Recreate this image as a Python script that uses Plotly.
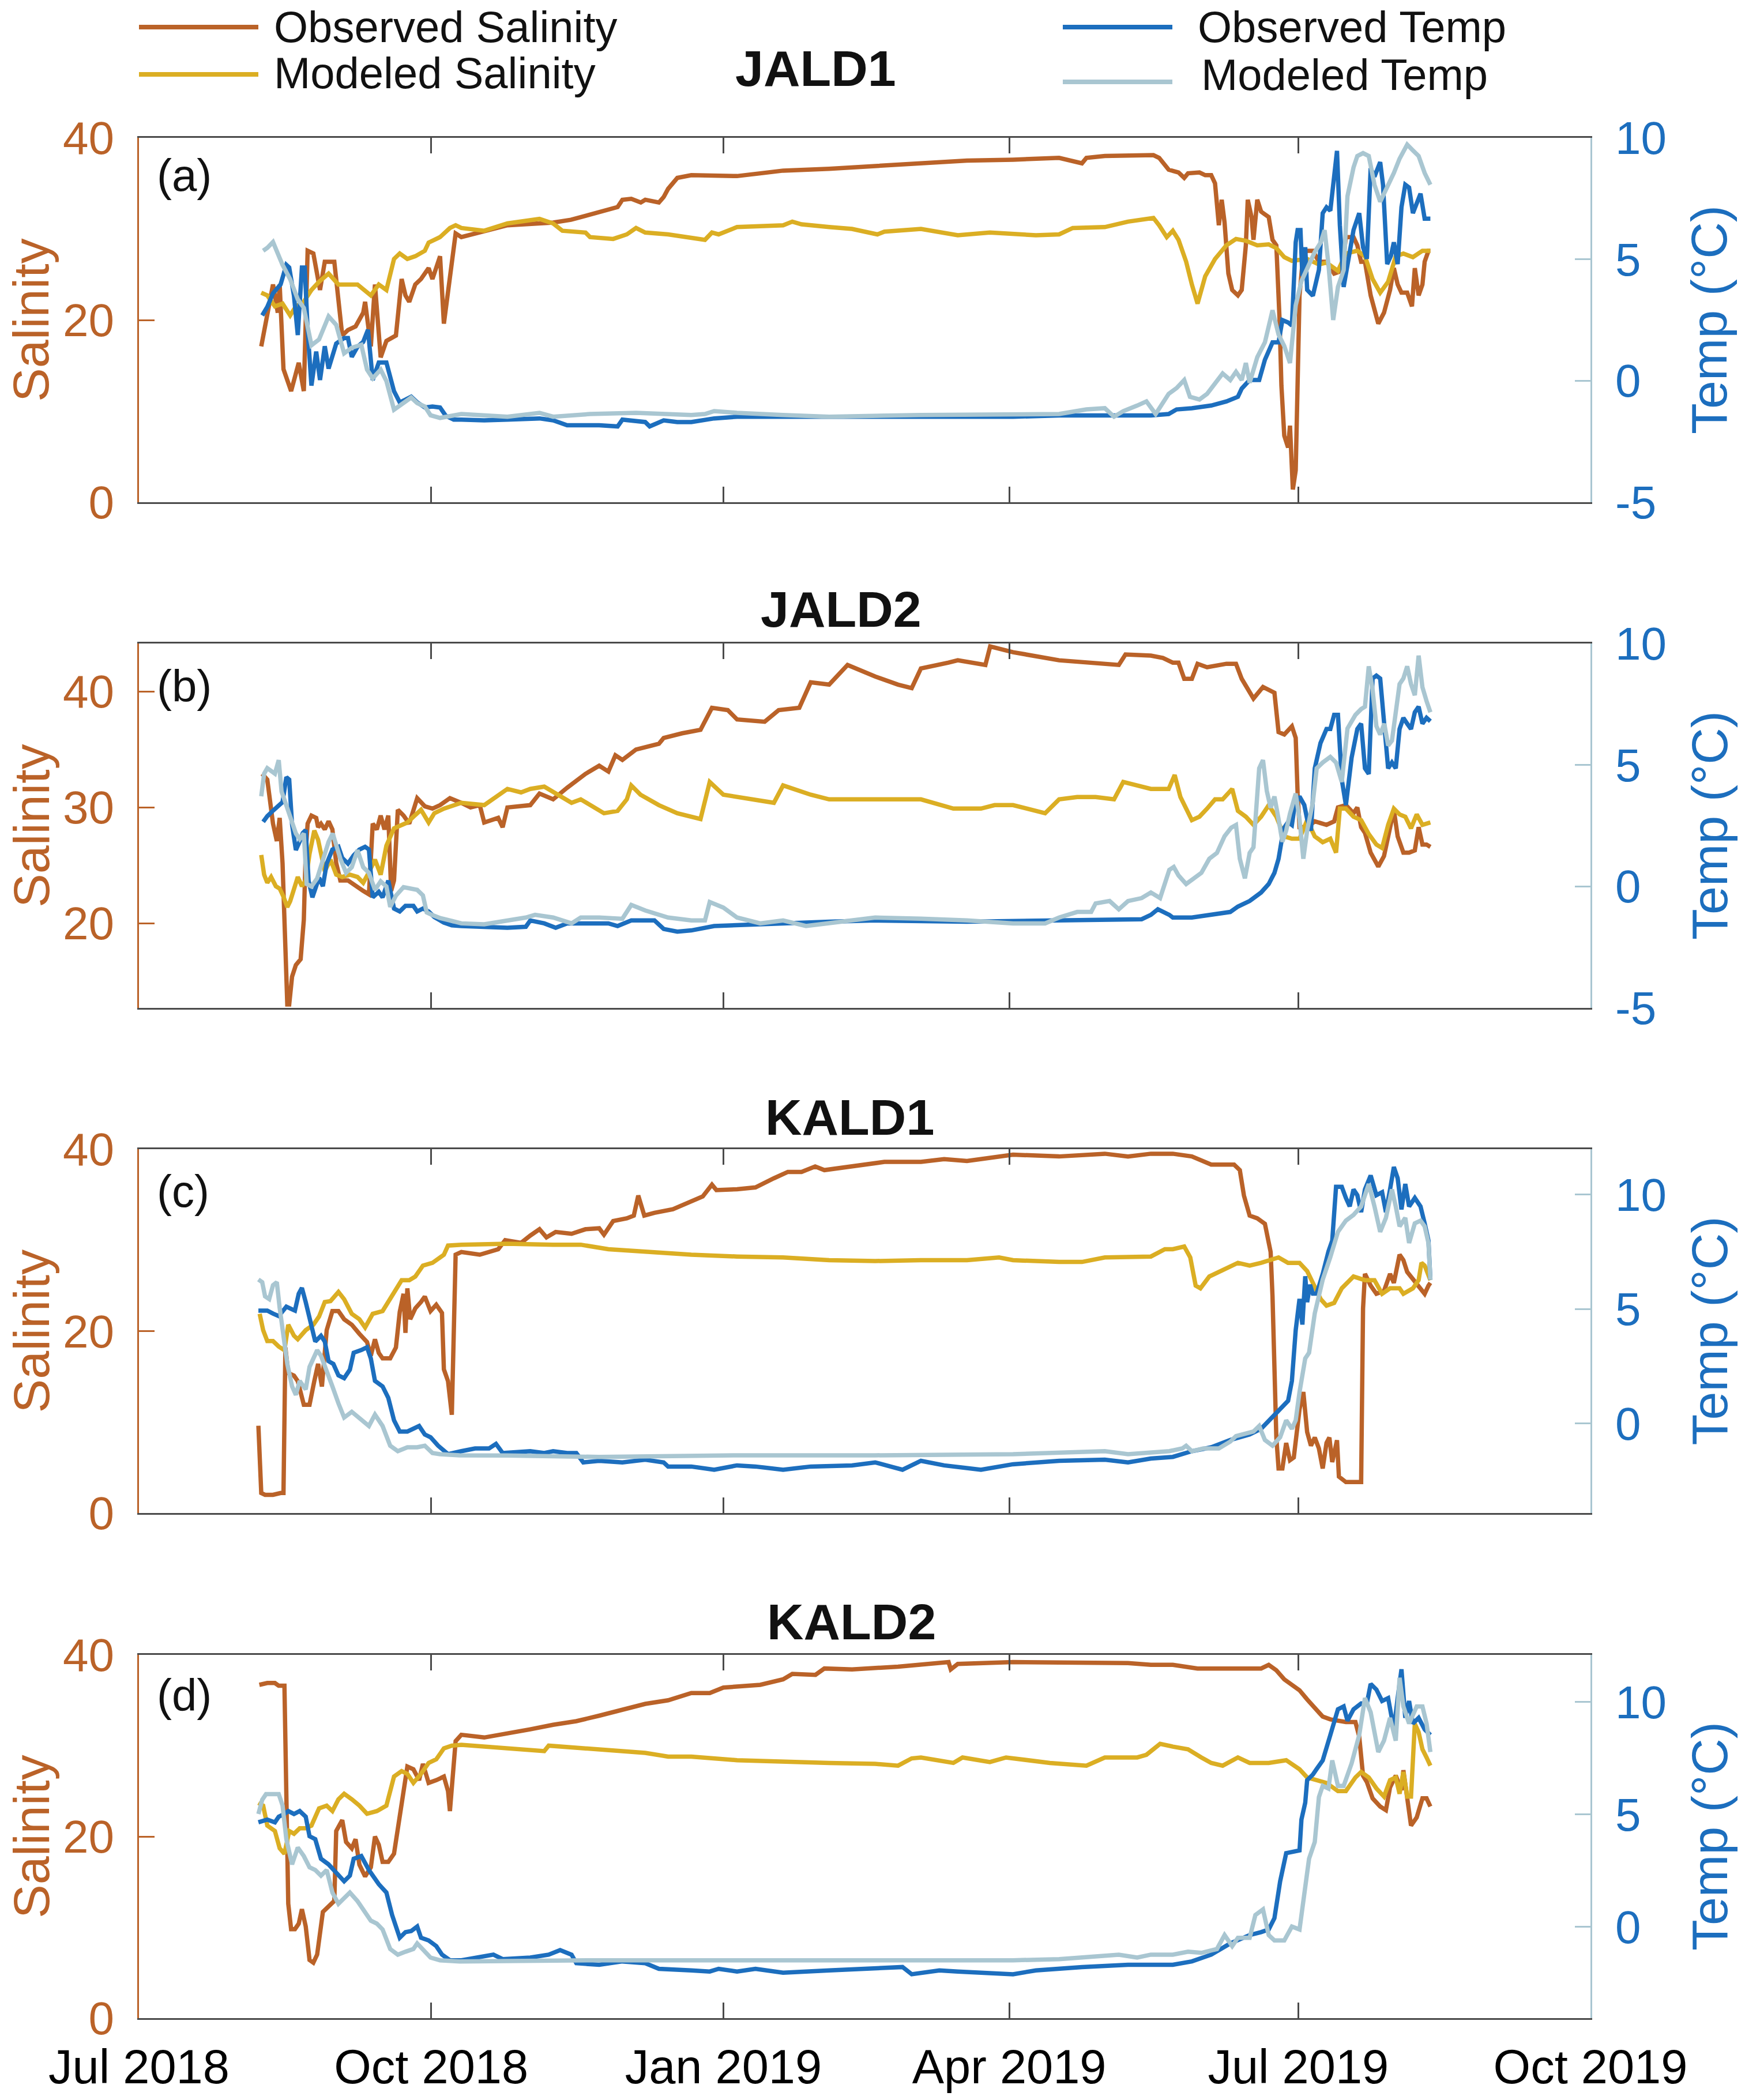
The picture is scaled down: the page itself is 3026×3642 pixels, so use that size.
import pandas as pd
import plotly.graph_objects as go

START = pd.Timestamp("2018-07-01")   # day 0 of the day offsets below

# ---------------- data: (days since 2018-07-01, value) ----------------
# Panel (a) JALD1
sal_obs_a = [(38.5,17.1),(42.2,23.9),(43.7,20.8),(44.3,23.9),(45.5,14.6),(47.9,12.2),(50.3,15.3),(51.9,12.2),(53.1,27.6),(54.9,27.3),(57.0,23.3),(58.5,26.4),(61.5,26.4),(64.0,18.3),(65.8,18.9),(68.2,19.3),(70.6,20.8),(71.2,22.0),(73.0,17.1),(74.3,23.9),(76.1,15.9),(77.9,17.7),(80.9,18.3),(82.7,24.5),(83.9,22.7),(85.1,22.0),(87.0,23.9),(88.8,24.5),(91.2,25.7),(92.4,24.5),(94.8,27.0),(96.0,19.6),(99.7,29.5),(101.5,29.1),(116.0,30.4),(130.4,30.7),(136.0,31.0),(144.9,31.9),(150.7,32.4),(152.2,33.2),(155.0,33.3),(158.0,32.9),(159.4,33.2),(163.7,32.9),(165.2,33.5),(166.6,34.4),(169.5,35.6),(173.9,35.9),(188.3,35.8),(195.6,36.1),(202.8,36.4),(217.3,36.6),(231.8,36.9),(246.2,37.2),(260.7,37.5),(275.2,37.6),(289.7,37.8),(296.9,37.2),(298.3,37.8),(304.1,38.0),(311.4,38.1),(319.4,38.1),(321.2,37.8),(324.2,36.5),(327.3,36.2),(329.1,35.6),(330.3,36.1),(333.9,36.2),(335.7,35.9),(337.6,35.9),(338.8,35.0),(340.0,30.4),(340.9,33.2),(341.8,30.7),(343.0,25.1),(344.2,23.3),(346.0,22.7),(347.2,23.3),(348.5,28.2),(349.1,33.2),(350.3,31.3),(350.9,28.8),(352.1,33.2),(353.3,31.9),(354.5,31.6),(355.7,31.3),(356.9,28.8),(358.1,28.2),(359.1,20.2),(359.7,12.8),(360.6,7.3),(361.8,6.0),(362.4,8.4),(363.3,1.4),(364.2,3.5),(365.4,22.7),(366.6,27.3),(367.8,27.6),(369.6,27.6),(371.5,26.4),(373.9,26.4),(376.3,25.1),(378.7,25.4),(380.0,29.1),(382.4,29.1),(383.6,28.2),(384.8,26.4),(386.0,26.4),(387.8,22.7),(390.2,19.6),(392.0,20.8),(393.9,23.3),(395.1,25.7),(396.3,23.9),(397.5,23.0),(399.3,23.0),(400.8,21.5),(401.7,25.7),(402.9,22.7),(404.1,23.9),(404.8,26.4),(406.0,27.6),(406.6,27.6)]
sal_mod_a = [(38.5,23.0),(40.4,22.7),(42.8,21.5),(45.2,21.8),(47.6,20.5),(49.4,21.5),(51.9,22.0),(54.3,23.3),(56.7,24.2),(59.7,25.1),(62.8,23.9),(65.8,23.9),(68.8,23.9),(73.0,22.7),(75.5,23.9),(77.9,23.3),(80.3,26.7),(82.1,27.3),(84.5,26.7),(87.0,27.0),(90.0,27.6),(91.2,28.5),(94.8,29.1),(97.9,30.1),(99.7,30.4),(101.5,30.1),(108.7,29.8),(116.0,30.6),(126.1,31.1),(130.4,30.6),(133.3,29.8),(140.6,29.6),(142.0,29.1),(149.3,28.9),(153.6,29.4),(156.5,30.1),(159.4,29.6),(166.6,29.4),(178.2,28.8),(180.4,29.6),(182.5,29.4),(188.3,30.2),(202.8,30.4),(205.7,30.8),(208.6,30.5),(217.3,30.2),(224.5,30.0),(232.5,29.4),(234.7,29.7),(246.2,30.0),(257.8,29.3),(267.9,29.6),(282.4,29.3),(289.7,29.4),(294.0,30.1),(304.1,30.2),(311.4,30.8),(319.4,31.2),(321.2,30.4),(323.6,29.1),(325.5,29.8),(327.3,28.8),(329.7,26.4),(331.5,23.9),(333.3,21.8),(335.7,24.8),(338.8,26.7),(342.4,28.2),(345.4,28.9),(348.5,28.7),(352.1,28.2),(355.7,28.3),(358.1,27.9),(360.6,26.9),(363.0,26.5),(367.8,26.7),(371.5,26.1),(373.9,26.3),(377.5,25.4),(380.0,27.3),(383.6,27.6),(386.0,27.0),(388.4,24.5),(390.8,23.0),(393.3,24.2),(395.7,27.0),(398.1,27.3),(401.1,26.9),(404.1,27.6),(406.6,27.6)]
tmp_obs_a = [(38.8,2.69),(40.4,3.04),(42.2,3.6),(44.6,3.97),(46.4,4.77),(47.3,4.66),(48.8,3.5),(50.0,1.88),(51.3,4.66),(52.2,4.66),(53.1,2.1),(54.3,-0.2),(55.8,1.2),(57.0,0.03),(58.5,1.42),(59.7,0.5),(62.1,1.53),(64.6,1.76),(65.8,1.76),(67.0,0.98),(68.8,1.4),(70.6,1.6),(72.1,2.1),(73.6,0.03),(75.5,0.75),(77.9,0.75),(80.3,-0.43),(82.1,-0.89),(83.9,-0.78),(85.7,-0.66),(87.6,-0.89),(90.0,-1.1),(92.4,-1.06),(94.8,-1.1),(96.6,-1.44),(99.1,-1.6),(101.5,-1.6),(108.7,-1.63),(116.0,-1.6),(126.1,-1.55),(130.4,-1.63),(134.8,-1.83),(144.9,-1.83),(150.7,-1.88),(152.2,-1.6),(159.4,-1.7),(160.8,-1.88),(165.2,-1.63),(169.5,-1.7),(173.9,-1.7),(181.1,-1.55),(188.3,-1.48),(217.3,-1.48),(246.2,-1.48),(275.2,-1.48),(289.7,-1.43),(318.6,-1.43),(324.2,-1.37),(326.7,-1.18),(331.5,-1.13),(337.6,-1.02),(342.4,-0.85),(346.0,-0.66),(347.2,-0.32),(349.7,0.03),(352.7,0.03),(354.5,0.86),(356.9,1.58),(358.8,1.58),(360.0,2.5),(361.8,2.4),(363.0,2.27),(364.2,5.7),(364.8,6.2),(365.7,6.2),(366.3,4.3),(367.2,5.5),(367.8,3.74),(369.6,3.5),(371.5,4.56),(372.7,6.9),(373.9,7.14),(375.1,7.0),(377.2,9.46),(378.1,6.4),(379.3,3.86),(380.5,4.8),(382.4,6.2),(384.2,6.9),(385.4,5.5),(386.6,5.02),(387.8,8.75),(389.0,8.4),(390.8,9.0),(391.7,8.05),(393.0,4.8),(394.2,5.15),(395.1,5.7),(396.3,4.8),(397.5,7.14),(398.7,8.07),(399.9,7.95),(401.1,6.9),(402.3,7.37),(403.5,7.7),(404.8,6.67),(406.6,6.67)]
tmp_mod_a = [(39.1,5.35),(40.4,5.47),(42.2,5.71),(43.4,5.35),(45.2,4.77),(47.6,4.18),(50.0,3.35),(51.9,3.0),(54.3,1.46),(56.7,1.7),(59.7,2.65),(62.1,2.3),(64.6,1.13),(67.0,1.36),(70.0,1.48),(71.8,0.46),(73.6,0.1),(76.1,0.46),(77.9,-0.01),(80.3,-1.19),(82.7,-0.97),(85.7,-0.69),(87.6,-0.92),(90.0,-1.06),(91.8,-1.42),(94.8,-1.53),(101.5,-1.37),(116.0,-1.48),(126.1,-1.32),(130.4,-1.48),(142.0,-1.37),(156.5,-1.32),(173.9,-1.41),(178.2,-1.37),(181.1,-1.25),(188.3,-1.32),(202.8,-1.41),(217.3,-1.48),(246.2,-1.41),(275.2,-1.41),(289.7,-1.37),(298.3,-1.18),(304.1,-1.13),(307.0,-1.48),(309.9,-1.25),(314.3,-1.02),(317.2,-0.85),(320.1,-1.37),(321.8,-1.02),(324.2,-0.54),(326.7,-0.3),(329.1,0.03),(330.9,-0.66),(333.9,-0.77),(336.3,-0.54),(339.4,0.03),(341.2,0.3),(343.6,0.03),(345.4,0.37),(347.2,0.03),(348.5,0.73),(349.7,-0.08),(352.1,0.97),(354.5,1.58),(356.9,2.9),(358.8,1.9),(360.6,1.43),(362.4,0.73),(364.2,3.1),(366.0,4.1),(367.8,4.6),(370.2,5.3),(372.1,5.7),(373.3,6.2),(374.5,4.8),(376.0,2.5),(377.5,3.86),(379.3,4.56),(380.5,7.6),(382.4,8.78),(383.6,9.25),(385.4,9.37),(387.2,9.25),(389.0,8.07),(390.8,7.37),(392.6,7.83),(395.1,8.55),(396.9,9.14),(399.3,9.72),(401.1,9.48),(402.9,9.25),(404.8,8.55),(406.6,8.07)]

# Panel (b) JALD2
sal_obs_b = [(38.8,32.9),(40.4,32.4),(42.2,28.6),(43.4,27.1),(44.3,29.1),(45.2,25.2),(46.1,17.9),(46.7,13.0),(47.3,13.0),(48.2,15.4),(49.4,16.4),(50.9,16.9),(51.9,20.3),(52.5,26.2),(53.1,28.6),(54.3,29.3),(55.8,29.1),(56.4,28.3),(57.3,28.6),(58.5,28.1),(59.7,28.8),(60.9,28.1),(62.1,25.2),(63.4,23.7),(65.8,23.7),(68.2,23.2),(70.6,22.8),(72.4,22.5),(73.6,28.6),(74.9,28.1),(76.1,29.3),(77.3,28.1),(78.5,29.3),(79.4,22.8),(80.3,23.7),(81.5,29.8),(83.3,29.3),(85.1,28.6),(87.6,30.8),(90.0,30.1),(92.4,29.9),(94.8,30.2),(97.9,30.8),(101.5,30.4),(104.4,30.0),(107.3,30.2),(108.7,28.7),(113.1,29.1),(114.5,28.3),(116.0,30.0),(123.2,30.2),(126.1,31.2),(130.4,30.7),(134.8,31.7),(140.6,32.9),(144.9,33.6),(147.8,33.1),(150.0,34.5),(152.2,34.1),(156.5,35.0),(163.7,35.5),(165.2,36.0),(171.0,36.4),(176.8,36.7),(180.4,38.6),(185.4,38.4),(188.3,37.6),(197.0,37.4),(201.4,38.4),(207.9,38.6),(211.5,40.8),(217.3,40.6),(223.1,42.3),(231.8,41.3),(239.0,40.6),(243.3,40.3),(246.2,42.0),(254.9,42.5),(257.8,42.7),(266.5,42.3),(268.0,43.9),(275.2,43.4),(289.7,42.7),(308.5,42.3),(310.6,43.2),(318.6,43.1),(322.4,42.9),(325.5,42.5),(327.3,42.5),(329.1,41.1),(331.5,41.1),(333.3,42.4),(336.3,42.1),(342.4,42.4),(345.4,42.4),(347.2,41.1),(349.7,39.9),(350.9,39.4),(353.9,40.4),(357.5,39.9),(358.8,36.5),(360.6,36.3),(363.0,37.0),(364.2,36.0),(364.8,31.2),(365.4,28.3),(367.8,28.3),(370.2,28.8),(373.9,28.5),(376.3,28.8),(377.5,30.0),(380.0,30.2),(382.4,29.5),(383.6,30.0),(384.8,28.3),(386.0,27.8),(387.8,26.1),(390.2,24.9),(392.0,25.8),(393.9,28.3),(395.1,29.8),(396.3,27.5),(398.1,26.1),(399.9,26.1),(401.7,26.3),(402.9,28.3),(404.1,26.8),(405.4,26.8),(406.6,26.6)]
sal_mod_b = [(38.5,25.9),(39.4,24.2),(40.4,23.5),(41.6,24.0),(43.1,23.2),(44.3,23.0),(45.5,22.3),(46.7,21.4),(47.6,21.9),(48.8,23.0),(50.0,24.0),(51.3,23.2),(52.5,23.7),(53.7,26.0),(55.2,28.0),(56.4,27.2),(57.3,26.0),(58.5,24.5),(60.3,25.5),(62.1,24.2),(64.0,24.0),(66.4,24.2),(68.8,24.0),(70.6,23.5),(72.4,24.4),(74.3,25.5),(76.1,24.2),(77.9,26.7),(80.3,28.2),(82.7,28.5),(84.5,28.7),(86.4,29.2),(88.8,29.8),(91.2,28.7),(93.0,29.5),(96.0,29.9),(98.5,30.1),(101.5,30.4),(108.7,30.2),(113.1,31.1),(116.0,31.6),(120.3,31.3),(123.2,31.6),(127.6,31.8),(131.9,31.1),(136.2,30.4),(139.1,30.7),(142.0,30.2),(146.4,29.5),(150.7,29.7),(153.6,30.7),(155.0,31.9),(157.9,31.1),(163.7,30.2),(169.5,29.5),(176.8,29.0),(179.7,32.2),(184.0,31.1),(188.3,30.9),(199.9,30.4),(202.8,31.9),(211.5,31.1),(217.3,30.7),(246.2,30.7),(256.4,29.9),(265.1,29.9),(269.4,30.2),(275.2,30.2),(285.3,29.5),(289.7,30.7),(295.4,30.9),(301.2,30.9),(307.0,30.7),(309.9,32.2),(312.8,32.0),(318.6,31.6),(321.8,31.6),(324.2,31.6),(326.1,32.8),(327.9,30.9),(331.5,28.9),(333.9,29.2),(336.3,29.9),(338.8,30.7),(341.2,30.7),(344.2,31.6),(346.0,29.7),(348.5,29.2),(350.9,28.5),(353.3,29.2),(355.7,30.2),(358.1,29.2),(360.6,27.5),(363.0,27.3),(365.4,27.3),(367.8,28.9),(370.2,27.5),(372.7,27.0),(375.1,27.3),(376.9,26.1),(378.1,29.9),(380.0,29.9),(382.4,29.2),(384.8,28.9),(387.2,27.7),(389.6,26.8),(391.4,26.5),(393.3,28.5),(395.1,29.9),(396.9,29.4),(398.7,29.2),(400.5,28.2),(402.3,29.4),(404.1,28.5),(406.6,28.7)]
tmp_obs_b = [(39.1,2.66),(40.4,2.89),(42.2,3.12),(44.0,3.35),(45.2,3.47),(46.4,4.5),(47.3,4.4),(48.2,2.55),(49.4,1.5),(50.6,1.85),(51.6,2.2),(52.5,2.32),(53.4,0.24),(54.6,-0.45),(55.5,-0.1),(56.7,0.36),(57.9,0.01),(59.1,0.94),(60.9,1.52),(62.8,1.63),(64.0,1.17),(65.8,0.94),(67.6,1.28),(69.4,1.52),(71.2,1.63),(72.4,1.52),(73.6,-0.45),(75.5,-0.22),(76.7,-0.45),(78.5,0.24),(80.3,-0.91),(82.1,-1.03),(83.9,-0.8),(86.4,-0.8),(87.6,-1.03),(89.4,-0.91),(91.2,-1.03),(93.0,-1.26),(96.0,-1.49),(98.5,-1.6),(101.5,-1.63),(110.2,-1.68),(116.0,-1.7),(121.8,-1.66),(123.2,-1.4),(127.6,-1.52),(131.2,-1.7),(134.8,-1.52),(147.8,-1.52),(150.7,-1.63),(155.0,-1.4),(162.3,-1.4),(165.2,-1.75),(169.5,-1.86),(173.9,-1.81),(181.1,-1.63),(188.3,-1.58),(202.8,-1.52),(217.3,-1.45),(231.8,-1.4),(260.7,-1.45),(289.7,-1.4),(315.7,-1.35),(318.6,-1.17),(320.8,-0.94),(324.4,-1.17),(325.5,-1.28),(331.5,-1.28),(337.6,-1.17),(343.6,-1.05),(346.0,-0.83),(349.7,-0.6),(353.3,-0.25),(355.7,0.1),(357.5,0.56),(358.8,1.14),(360.0,2.07),(360.6,2.42),(361.8,2.65),(363.0,2.53),(363.9,3.35),(365.4,3.7),(366.9,3.35),(367.8,2.77),(369.0,2.3),(370.2,4.86),(372.0,5.9),(373.9,6.48),(375.1,6.48),(376.3,7.06),(377.5,7.06),(378.7,4.4),(380.0,3.35),(381.8,5.3),(383.6,6.48),(384.8,6.7),(386.0,4.86),(387.2,4.63),(388.4,8.56),(389.6,8.68),(390.8,8.56),(392.1,6.48),(393.3,4.86),(394.5,5.1),(395.7,4.86),(396.9,6.48),(398.1,6.94),(399.3,6.7),(400.5,6.48),(401.7,7.17),(402.9,7.4),(404.1,6.7),(405.4,6.94),(406.6,6.8)]
tmp_mod_b = [(38.5,3.71),(39.4,4.64),(40.4,4.87),(41.6,4.75),(42.8,4.64),(44.0,5.2),(44.9,3.9),(45.8,3.57),(47.6,2.88),(49.4,2.18),(50.6,1.95),(51.9,2.18),(52.8,0.1),(54.3,0.0),(56.1,0.33),(57.9,1.14),(59.7,1.84),(61.0,2.18),(62.1,1.72),(63.4,1.14),(65.2,0.56),(67.0,0.79),(68.8,1.49),(70.6,0.79),(72.4,0.56),(74.3,-0.14),(76.1,0.21),(77.9,0.0),(79.1,-0.84),(80.9,-0.38),(83.3,-0.03),(85.7,-0.07),(87.6,-0.14),(89.4,-0.37),(90.6,-1.07),(92.4,-1.18),(94.8,-1.3),(98.5,-1.42),(101.5,-1.52),(108.7,-1.56),(116.0,-1.4),(121.8,-1.28),(124.7,-1.17),(130.4,-1.28),(136.2,-1.52),(139.1,-1.28),(144.9,-1.28),(152.2,-1.33),(155.0,-0.76),(159.4,-0.99),(166.6,-1.28),(173.9,-1.4),(178.2,-1.4),(179.7,-0.64),(184.0,-0.87),(188.3,-1.28),(195.6,-1.52),(202.8,-1.4),(210.0,-1.63),(224.5,-1.4),(231.8,-1.28),(246.2,-1.33),(260.7,-1.4),(275.2,-1.52),(285.3,-1.52),(289.7,-1.28),(295.4,-1.05),(299.8,-1.05),(301.2,-0.7),(305.6,-0.6),(308.5,-0.94),(311.4,-0.6),(315.7,-0.48),(318.6,-0.25),(321.5,-0.48),(324.4,0.68),(325.8,0.8),(327.3,0.45),(329.7,0.1),(332.1,0.33),(334.5,0.56),(337.0,1.14),(339.4,1.38),(341.8,2.07),(343.9,2.42),(345.4,2.53),(346.6,1.14),(348.2,0.33),(349.7,1.38),(350.9,1.61),(352.7,4.86),(353.9,5.2),(355.1,3.93),(356.3,3.24),(357.5,3.7),(358.8,2.77),(360.0,1.84),(361.2,2.3),(362.4,3.0),(364.2,3.82),(365.4,2.77),(366.6,1.14),(367.8,2.3),(369.6,3.47),(370.8,4.86),(372.7,5.1),(375.1,5.33),(376.9,5.1),(378.7,4.3),(380.5,6.5),(383.0,7.06),(384.8,7.3),(386.0,7.4),(387.2,9.06),(388.4,8.1),(389.6,6.6),(390.8,6.25),(392.1,6.7),(393.3,5.8),(394.5,6.0),(395.7,7.17),(396.9,8.33),(398.1,8.56),(399.3,9.06),(400.5,8.33),(401.7,7.87),(402.9,9.5),(404.1,8.2),(405.4,7.63),(406.6,7.17)]

# Panel (c) KALD1
sal_obs_c = [(37.6,9.6),(38.5,2.2),(39.7,2.0),(42.2,2.0),(44.6,2.2),(45.5,2.2),(46.1,18.2),(47.0,15.4),(48.8,15.1),(50.0,14.5),(51.9,11.9),(53.7,11.9),(55.2,14.5),(56.4,16.4),(57.6,13.9),(58.2,17.0),(59.1,20.1),(60.9,22.2),(62.8,22.2),(64.6,21.3),(67.0,20.7),(69.4,19.7),(71.8,18.8),(73.0,17.3),(74.3,19.1),(75.5,17.6),(76.7,17.0),(79.1,17.0),(80.9,18.2),(82.1,22.1),(83.3,24.1),(83.9,19.8),(84.5,24.7),(85.4,21.3),(87.0,22.5),(88.8,23.2),(90.0,23.8),(91.8,22.2),(93.6,22.9),(95.4,22.0),(96.0,15.8),(97.3,14.5),(98.5,10.8),(99.7,28.4),(101.5,28.7),(107.3,28.4),(113.1,29.0),(115.3,30.0),(120.3,29.7),(123.2,30.5),(126.1,31.2),(128.3,30.3),(131.2,30.9),(136.2,30.7),(140.6,31.2),(144.9,31.3),(146.4,30.6),(149.3,32.1),(153.6,32.4),(155.8,32.7),(157.2,34.9),(159.1,32.7),(162.3,33.0),(168.1,33.4),(173.9,34.3),(177.5,34.8),(180.4,36.1),(181.8,35.5),(188.3,35.6),(194.1,35.8),(199.9,36.8),(204.3,37.5),(208.6,37.5),(212.9,38.1),(215.8,37.7),(221.6,38.0),(228.9,38.3),(234.7,38.6),(246.2,38.6),(253.5,38.9),(260.7,38.7),(275.2,39.4),(289.7,39.2),(304.1,39.5),(311.4,39.2),(318.6,39.5),(325.5,39.5),(331.5,39.2),(337.6,38.3),(344.8,38.3),(346.6,37.7),(347.9,34.9),(349.7,32.7),(352.1,32.4),(354.5,31.8),(356.3,28.7),(356.9,23.8),(357.5,15.8),(358.1,8.3),(358.8,4.9),(360.0,4.9),(361.2,7.7),(362.4,5.8),(363.6,6.1),(365.4,11.4),(366.6,13.3),(367.8,8.9),(369.0,7.4),(370.2,8.3),(371.5,7.1),(372.7,4.9),(373.9,7.7),(374.8,8.3),(375.7,5.6),(377.2,8.0),(377.8,4.0),(380.0,3.4),(384.8,3.4),(385.4,22.5),(386.0,26.3),(387.8,25.0),(389.6,24.1),(392.0,24.4),(393.9,26.3),(395.1,25.3),(396.9,28.4),(398.1,27.8),(399.3,26.5),(402.9,25.0),(404.8,24.1),(406.0,25.0),(406.6,25.3)]
sal_mod_c = [(38.0,21.9),(39.1,20.1),(40.4,18.9),(42.2,18.9),(44.0,18.3),(45.8,17.9),(47.0,20.7),(48.8,19.5),(50.0,19.1),(52.5,20.1),(54.9,20.7),(56.7,21.6),(58.5,23.2),(60.3,23.3),(62.8,24.3),(64.6,23.5),(67.0,21.9),(69.4,21.3),(71.2,20.4),(73.6,21.9),(76.7,22.2),(79.1,23.5),(82.7,25.6),(85.1,25.6),(87.0,26.0),(89.4,27.2),(92.4,27.5),(96.0,28.4),(97.3,29.4),(101.5,29.5),(116.0,29.6),(130.4,29.5),(139.1,29.5),(147.8,29.0),(159.4,28.7),(173.9,28.4),(188.3,28.2),(202.8,28.1),(217.3,27.8),(231.8,27.7),(246.2,27.8),(260.7,27.8),(270.8,28.1),(275.2,27.8),(289.7,27.6),(296.9,27.6),(304.1,28.1),(318.6,28.2),(323.0,29.0),(325.5,29.0),(329.1,29.3),(331.0,28.1),(332.7,25.0),(334.2,24.7),(337.0,26.0),(340.6,26.6),(346.0,27.5),(349.7,27.2),(353.3,27.5),(358.8,28.1),(361.8,27.5),(365.4,27.5),(367.8,26.6),(369.6,25.3),(372.1,23.5),(373.9,22.8),(376.3,23.1),(378.7,24.7),(382.4,26.0),(386.0,25.6),(389.0,25.6),(391.4,24.1),(393.9,24.7),(396.9,24.7),(398.1,24.1),(401.1,24.7),(402.9,25.6),(403.8,27.5),(404.8,27.2),(406.6,25.6)]
tmp_obs_c = [(37.6,4.93),(40.4,4.93),(42.2,4.8),(44.0,4.69),(46.4,5.1),(49.1,4.93),(50.3,5.67),(51.3,5.92),(52.5,5.3),(54.3,4.32),(55.5,3.58),(57.3,3.83),(58.5,3.58),(59.7,2.72),(61.2,2.6),(62.8,2.1),(64.6,1.98),(66.4,2.35),(67.6,3.09),(70.0,3.21),(71.8,3.33),(73.0,2.84),(74.3,1.86),(76.7,1.62),(78.5,1.12),(80.3,0.14),(82.1,-0.35),(84.5,-0.35),(86.4,-0.23),(88.2,-0.11),(90.0,-0.48),(91.8,-0.6),(94.2,-0.97),(97.3,-1.34),(101.5,-1.21),(105.8,-1.09),(110.2,-1.09),(112.4,-0.89),(114.5,-1.29),(118.9,-1.24),(123.2,-1.21),(127.6,-1.29),(130.4,-1.21),(134.8,-1.29),(137.7,-1.29),(139.9,-1.70),(144.9,-1.63),(152.2,-1.70),(159.4,-1.58),(165.2,-1.70),(166.6,-1.88),(173.9,-1.88),(181.1,-2.02),(188.3,-1.83),(194.1,-1.88),(202.8,-2.02),(211.5,-1.88),(224.5,-1.83),(231.8,-1.70),(240.4,-2.02),(246.2,-1.63),(253.5,-1.83),(265.1,-2.02),(275.2,-1.78),(289.7,-1.63),(304.1,-1.58),(311.4,-1.70),(318.6,-1.53),(325.5,-1.46),(331.5,-1.21),(337.6,-1.04),(343.6,-0.72),(349.7,-0.48),(353.3,-0.23),(356.9,0.26),(359.3,0.63),(361.8,0.99),(363.0,1.86),(364.2,4.08),(365.4,5.44),(366.3,4.32),(367.2,6.43),(367.8,5.3),(368.7,6.06),(369.6,5.67),(370.8,5.67),(372.7,6.53),(374.5,7.51),(375.7,7.99),(376.9,10.34),(378.7,10.34),(380.0,9.85),(381.2,9.48),(382.4,10.22),(383.6,9.97),(384.8,9.23),(386.0,10.22),(387.8,10.83),(389.6,9.97),(391.4,10.1),(392.6,9.23),(393.9,10.22),(395.1,11.2),(396.3,10.71),(397.5,9.35),(398.7,10.46),(399.9,9.48),(401.7,9.85),(403.5,9.48),(404.8,8.74),(406.0,7.99),(406.6,6.28)]
tmp_mod_c = [(37.6,6.29),(38.8,6.17),(39.7,5.55),(41.0,5.43),(42.2,6.04),(43.4,6.17),(44.3,5.05),(45.5,3.83),(46.7,2.6),(48.2,1.62),(49.4,1.25),(50.6,1.86),(52.5,1.49),(53.7,2.47),(56.1,3.2),(57.3,2.96),(59.1,2.22),(60.9,1.62),(62.8,0.88),(64.6,0.26),(67.0,0.51),(70.0,0.14),(72.4,-0.11),(74.3,0.39),(76.7,-0.11),(79.1,-0.97),(81.5,-1.21),(84.5,-1.04),(87.6,-1.04),(90.0,-0.97),(92.4,-1.29),(94.8,-1.34),(101.0,-1.39),(116.0,-1.40),(144.9,-1.46),(188.3,-1.39),(231.8,-1.39),(275.2,-1.34),(289.7,-1.29),(304.1,-1.21),(311.4,-1.34),(318.6,-1.29),(324.4,-1.21),(328.5,-1.09),(329.7,-0.97),(331.5,-1.21),(335.1,-1.09),(340.0,-1.09),(343.6,-0.79),(345.4,-0.55),(347.9,-0.48),(350.9,-0.35),(352.7,-0.11),(354.5,-0.72),(356.9,-0.97),(359.3,-0.6),(361.2,0.14),(363.0,-0.23),(364.2,0.14),(365.4,1.37),(367.2,2.84),(368.4,3.09),(370.2,4.81),(372.7,6.28),(375.1,7.27),(377.5,8.37),(380.0,8.86),(382.4,9.11),(384.8,9.48),(387.2,10.46),(389.0,9.48),(390.8,8.37),(392.6,8.98),(394.5,10.22),(395.7,9.48),(396.9,8.61),(398.7,8.98),(399.9,7.88),(401.7,8.74),(403.5,8.86),(404.8,8.61),(406.0,7.88),(406.6,6.28)]

# Panel (d) KALD2
sal_obs_d = [(37.9,36.7),(40.4,36.9),(42.8,36.9),(44.0,36.6),(45.8,36.6),(46.4,24.9),(47.0,12.6),(47.9,9.8),(49.1,9.8),(50.3,10.4),(51.3,12.0),(52.5,10.1),(53.7,6.4),(54.9,6.1),(56.1,7.0),(57.9,11.7),(59.7,12.3),(61.5,12.9),(62.1,20.6),(64.0,21.8),(65.2,19.4),(67.0,18.7),(68.2,19.7),(69.4,16.9),(71.2,15.6),(73.0,16.6),(74.3,20.0),(75.5,19.1),(76.7,17.2),(78.5,17.2),(80.3,18.1),(82.1,22.4),(83.3,25.6),(84.5,27.7),(86.4,27.4),(88.2,26.2),(89.4,28.0),(91.2,25.9),(93.6,26.2),(96.0,26.6),(97.3,25.0),(97.9,22.8),(99.7,30.5),(101.5,31.2),(108.7,30.9),(116.0,31.3),(123.2,31.8),(130.4,32.3),(137.7,32.7),(144.9,33.3),(152.2,33.9),(159.4,34.6),(166.6,35.0),(173.9,35.8),(179.7,35.8),(184.0,36.4),(195.6,36.7),(202.8,37.3),(205.7,37.9),(213.0,37.8),(215.8,38.5),(224.5,38.4),(239.0,38.7),(246.2,38.9),(254.9,39.2),(255.6,38.4),(257.8,39.0),(275.2,39.2),(304.1,39.2),(311.4,39.1),(318.6,38.9),(325.5,38.9),(333.3,38.5),(343.6,38.5),(353.3,38.5),(355.7,38.9),(358.1,38.3),(360.6,37.3),(363.0,36.7),(365.4,36.1),(367.8,35.1),(370.2,34.2),(372.7,33.2),(375.1,32.9),(380.0,32.6),(383.0,32.6),(384.2,31.0),(385.4,26.7),(386.6,26.0),(388.4,24.2),(390.8,23.3),(392.6,22.9),(393.9,25.4),(395.7,26.7),(397.5,25.1),(398.1,27.3),(399.3,24.2),(400.5,21.2),(402.3,22.1),(404.1,24.2),(405.4,24.2),(406.6,23.3)]
sal_mod_d = [(37.6,23.7),(39.1,23.4),(40.4,21.2),(42.8,20.6),(44.3,18.7),(45.8,18.1),(47.3,20.6),(48.8,20.3),(50.6,20.9),(52.5,20.9),(54.3,21.2),(56.7,23.1),(59.1,23.4),(60.9,22.8),(62.8,24.1),(64.6,24.7),(67.0,24.1),(69.4,23.4),(71.8,22.5),(74.9,22.8),(77.9,23.4),(80.3,26.6),(82.7,27.2),(84.5,26.9),(86.4,25.9),(88.8,26.9),(91.2,28.1),(93.6,28.5),(96.0,29.7),(98.5,30.0),(101.5,30.1),(108.7,29.9),(116.0,29.8),(123.2,29.6),(127.6,29.4),(129.0,30.0),(144.9,29.6),(159.4,29.2),(166.6,28.8),(173.9,28.8),(188.3,28.4),(202.8,28.2),(217.3,28.1),(231.8,28.0),(239.0,27.8),(243.3,28.6),(246.2,28.7),(256.4,28.1),(259.3,28.7),(267.9,28.2),(273.0,28.7),(286.8,28.1),(298.3,27.8),(304.1,28.7),(314.3,28.7),(317.2,29.0),(321.5,30.2),(325.5,29.9),(330.3,29.6),(334.5,28.7),(337.6,28.1),(341.2,27.8),(346.0,28.7),(349.7,28.1),(355.7,28.1),(361.2,28.4),(365.4,27.4),(367.8,26.5),(371.5,26.2),(373.9,25.9),(377.5,25.0),(380.0,25.0),(383.0,26.5),(384.8,27.1),(387.2,26.5),(389.6,25.3),(392.0,24.4),(393.9,26.2),(395.7,26.5),(396.9,24.7),(398.1,27.1),(399.3,24.4),(400.5,24.4),(401.7,32.4),(402.9,31.5),(404.1,29.6),(405.4,28.7),(406.6,27.8)]
tmp_obs_d = [(37.6,4.65),(40.4,4.77),(42.8,4.65),(44.0,4.9),(45.8,5.02),(47.0,5.15),(48.8,5.02),(50.6,5.15),(52.5,4.9),(53.7,4.03),(55.5,3.9),(57.3,3.03),(59.7,2.78),(62.1,2.4),(64.6,2.03),(66.4,2.28),(67.6,3.03),(70.0,3.15),(72.4,2.53),(75.5,1.9),(77.9,1.53),(79.7,0.53),(82.1,-0.48),(83.9,-0.23),(85.7,-0.18),(87.6,0.02),(88.8,-0.48),(91.2,-0.6),(93.6,-0.85),(95.4,-1.23),(97.9,-1.48),(101.5,-1.48),(107.3,-1.36),(111.6,-1.23),(114.5,-1.43),(123.2,-1.36),(129.0,-1.23),(132.6,-1.03),(136.2,-1.23),(137.7,-1.61),(144.9,-1.68),(152.2,-1.53),(159.4,-1.61),(163.7,-1.86),(173.9,-1.93),(179.7,-1.98),(182.5,-1.86),(188.3,-1.98),(194.1,-1.86),(202.8,-2.03),(217.3,-1.93),(231.8,-1.86),(240.4,-1.78),(243.3,-2.1),(252.0,-1.93),(257.8,-1.98),(275.2,-2.1),(282.4,-1.93),(296.9,-1.78),(311.4,-1.68),(325.5,-1.68),(331.5,-1.53),(337.6,-1.23),(343.6,-0.73),(349.7,-0.36),(353.3,-0.23),(355.7,-0.11),(357.5,0.39),(359.3,2.03),(361.2,3.28),(363.0,3.33),(365.4,3.4),(366.0,4.77),(367.2,5.52),(367.8,6.52),(369.6,6.77),(370.8,7.02),(372.7,7.4),(375.1,8.53),(377.5,9.67),(379.3,9.8),(380.5,9.16),(382.4,9.67),(384.8,9.93),(386.6,9.93),(387.8,10.8),(389.6,10.55),(391.4,10.04),(393.3,10.17),(395.1,8.78),(396.3,10.17),(397.5,11.45),(398.7,9.29),(399.9,10.04),(401.1,9.04),(402.9,9.29),(404.8,8.78),(406.6,8.53)]
tmp_mod_d = [(37.6,5.02),(38.8,5.65),(40.0,5.9),(42.2,5.9),(44.0,5.9),(45.2,5.4),(46.4,3.9),(48.2,2.78),(50.0,3.53),(51.9,3.15),(53.7,2.65),(55.5,2.53),(57.3,2.28),(59.1,2.53),(60.9,1.53),(62.8,1.03),(64.6,1.28),(66.4,1.53),(68.8,1.15),(70.6,0.78),(73.0,0.28),(74.9,0.15),(76.7,-0.11),(79.1,-0.98),(81.5,-1.23),(83.9,-1.1),(86.4,-0.98),(87.6,-0.73),(89.4,-0.98),(91.8,-1.36),(94.8,-1.48),(101.0,-1.53),(144.9,-1.48),(188.3,-1.48),(231.8,-1.48),(275.2,-1.48),(289.7,-1.43),(304.1,-1.28),(308.5,-1.23),(314.3,-1.36),(318.6,-1.23),(325.5,-1.23),(330.3,-1.1),(334.5,-1.15),(339.4,-0.98),(341.8,-0.36),(344.2,-0.85),(346.0,-0.48),(349.7,-0.48),(351.5,0.53),(353.9,0.78),(355.7,-0.36),(357.5,-0.6),(360.6,-0.6),(363.0,0.02),(365.4,-0.11),(367.2,1.78),(368.4,3.03),(370.2,3.78),(371.5,5.77),(372.7,6.27),(374.5,6.15),(375.7,7.4),(377.5,6.27),(379.3,6.27),(381.8,7.27),(384.2,8.53),(386.0,10.17),(387.8,9.54),(390.2,7.77),(392.0,8.28),(393.9,9.29),(395.7,8.28),(396.9,11.07),(398.1,9.8),(399.9,9.04),(402.3,9.8),(404.1,9.8),(405.4,9.04),(406.6,7.77)]

titles = ["JALD1", "JALD2", "KALD1", "KALD2"]
panel_tags = ["(a)", "(b)", "(c)", "(d)"]
sal_ranges = [[0, 40], [12.7, 44.15], [0, 40], [0, 40]]
sal_ticks = [[0, 20, 40], [20, 30, 40], [0, 20, 40], [0, 20, 40]]
tmp_ranges = [[-5, 10], [-5, 10], [-3.91, 11.98], [-4.05, 12.09]]
tmp_ticks = [[-5, 0, 5, 10], [-5, 0, 5, 10], [0, 5, 10], [0, 5, 10]]
x_tick_dates = ["2018-07-01", "2018-10-01", "2019-01-01", "2019-04-01", "2019-07-01", "2019-10-01"]
x_tick_text = ["Jul 2018", "Oct 2018", "Jan 2019", "Apr 2019", "Jul 2019", "Oct 2019"]
legend_names = ["Observed Salinity", "Modeled Salinity", "Observed Temp", "Modeled Temp"]

series = [
    (sal_obs_a, sal_mod_a, tmp_obs_a, tmp_mod_a),
    (sal_obs_b, sal_mod_b, tmp_obs_b, tmp_mod_b),
    (sal_obs_c, sal_mod_c, tmp_obs_c, tmp_mod_c),
    (sal_obs_d, sal_mod_d, tmp_obs_d, tmp_mod_d),
]

# ---------------- styling ----------------
W, H = 3026, 3642
FONT = "Liberation Sans, Arial, Helvetica, sans-serif"
C_SO, C_SM, C_TO, C_TM = "#BA6228", "#DBAE23", "#1C6EBE", "#A9C6D1"
C_BOX = "#4A4A4A"
LW = 7.5

def px(x):
    return x / W

def py(y):
    return 1 - y / H

X_LEFT, X_RIGHT = 241, 2758
panel_px = [(239, 871), (1116, 1748), (1993, 2624), (2870, 3500)]   # (top, bottom)
title_pos = [(1414, 119), (1458, 1057), (1473, 1937), (1476, 2812)]
tag_y = [304, 1190, 2066, 2940]

def to_dates(pairs):
    return [START + pd.Timedelta(days=d) for d, _ in pairs]

def vals(pairs):
    return [v for _, v in pairs]

def yname(n):
    return "y" if n == 1 else f"y{n}"

def ykey(n):
    return "yaxis" if n == 1 else f"yaxis{n}"

def xname(n):
    return "x" if n == 1 else f"x{n}"

def xkey(n):
    return "xaxis" if n == 1 else f"xaxis{n}"

fig = go.Figure()
layout = dict(width=W, height=H, margin=dict(l=0, r=0, t=0, b=0, pad=0, autoexpand=False),
              paper_bgcolor="white", plot_bgcolor="rgba(0,0,0,0)",
              showlegend=False, font=dict(family=FONT, color="black"))
annotations, shapes = [], []

for i in range(4):
    n = i + 1
    yl, yr = 2 * i + 1, 2 * i + 2
    so, sm, to, tm = series[i]
    for data, col, ax in [(so, C_SO, yl), (sm, C_SM, yl), (to, C_TO, yr), (tm, C_TM, yr)]:
        fig.add_trace(go.Scatter(x=to_dates(data), y=vals(data), mode="lines",
                                 line=dict(color=col, width=LW),
                                 xaxis=xname(n), yaxis=yname(ax), hoverinfo="skip"))
    top, bot = panel_px[i]
    layout[xkey(n)] = dict(
        domain=[px(X_LEFT), px(X_RIGHT)], anchor=yname(yl), type="date", automargin=False,
        range=["2018-07-01", "2019-10-01"], tickvals=x_tick_dates, ticktext=x_tick_text,
        showticklabels=(n == 4), ticks="inside", ticklen=27, tickwidth=2.5, tickcolor=C_BOX,
        showline=True, linewidth=3, linecolor=C_BOX, mirror="ticks",
        showgrid=False, zeroline=False, tickfont=dict(size=83, color="black", family=FONT),
        ticklabelstandoff=10)
    layout[ykey(yl)] = dict(
        domain=[py(bot), py(top)], anchor=xname(n), range=sal_ranges[i], automargin=False,
        tickvals=sal_ticks[i], ticktext=[str(t) for t in sal_ticks[i]],
        ticks="inside", ticklen=27, tickwidth=2.5, tickcolor=C_SO,
        showline=True, linewidth=3, linecolor=C_SO, showgrid=False, zeroline=False,
        tickfont=dict(size=80, color=C_SO, family=FONT), ticklabelstandoff=24)
    layout[ykey(yr)] = dict(
        overlaying=yname(yl), anchor=xname(n), side="right", range=tmp_ranges[i], automargin=False,
        tickvals=tmp_ticks[i], ticktext=[str(t) for t in tmp_ticks[i]],
        ticks="inside", ticklen=27, tickwidth=2.5, tickcolor=C_TM,
        showline=True, linewidth=3, linecolor=C_TM, showgrid=False, zeroline=False,
        tickfont=dict(size=80, color=C_TO, family=FONT), ticklabelstandoff=24)

    mid = (top + bot) / 2
    annotations.append(dict(text="Salinity", x=px(54), y=py(mid), xref="paper", yref="paper",
                            textangle=-90, showarrow=False, xanchor="center", yanchor="middle",
                            font=dict(size=88, color=C_SO, family=FONT)))
    annotations.append(dict(text="Temp (°C)", x=px(2964), y=py(mid), xref="paper", yref="paper",
                            textangle=-90, showarrow=False, xanchor="center", yanchor="middle",
                            font=dict(size=88, color=C_TO, family=FONT)))
    tx, ty = title_pos[i]
    annotations.append(dict(text=f"<b>{titles[i]}</b>", x=px(tx), y=py(ty), xref="paper", yref="paper",
                            showarrow=False, xanchor="center", yanchor="middle",
                            font=dict(size=88, color="#111111", family=FONT)))
    annotations.append(dict(text=panel_tags[i], x=px(270), y=py(tag_y[i]), xref="paper", yref="paper",
                            showarrow=False, xanchor="left", yanchor="middle",
                            font=dict(size=78, color="#111111", family=FONT)))

# legend (drawn manually: two columns)
legend_items = [
    (legend_names[0], C_SO, (241, 448, 47), (473, 47)),
    (legend_names[1], C_SM, (241, 448, 129), (473, 127)),
    (legend_names[2], C_TO, (1843, 2033, 47), (2075, 47)),
    (legend_names[3], C_TM, (1843, 2033, 142), (2081, 130)),
]
for name, col, (x0, x1, yy), (tx, ty) in legend_items:
    shapes.append(dict(type="line", xref="paper", yref="paper", x0=px(x0), x1=px(x1),
                       y0=py(yy), y1=py(yy), line=dict(color=col, width=8)))
    annotations.append(dict(text=name, x=px(tx), y=py(ty), xref="paper", yref="paper",
                            showarrow=False, xanchor="left", yanchor="middle",
                            font=dict(size=76, color="#111111", family=FONT)))

layout["annotations"] = annotations
layout["shapes"] = shapes
fig.update_layout(**layout)

fig.write_html("out.html", config={"displayModeBar": False},
               post_script="document.body.style.margin='0';")
